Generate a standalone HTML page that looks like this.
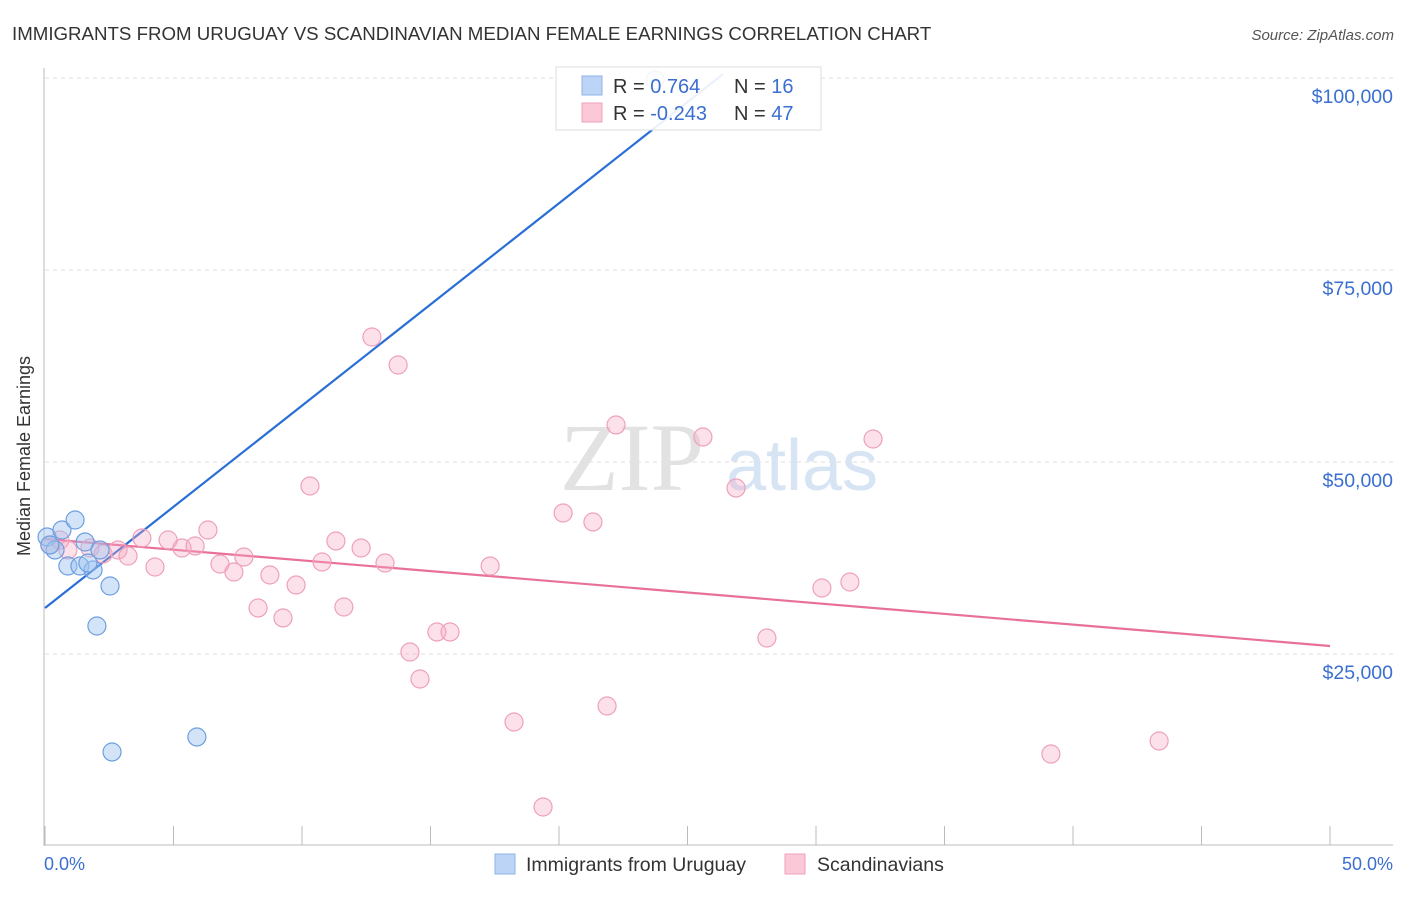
<!DOCTYPE html>
<html><head><meta charset="utf-8"><style>
body{margin:0;background:#fff;font-family:"Liberation Sans",sans-serif;}
</style></head><body>
<svg width="1406" height="892" xmlns="http://www.w3.org/2000/svg" font-family="Liberation Sans, sans-serif">
<text x="12" y="40" font-size="18.7" fill="#333">IMMIGRANTS FROM URUGUAY VS SCANDINAVIAN MEDIAN FEMALE EARNINGS CORRELATION CHART</text>
<text x="1394" y="40" font-size="15" fill="#555" font-style="italic" text-anchor="end">Source: ZipAtlas.com</text>
<g id="grid"></g>
<g>
<text x="632" y="490" font-size="96" fill="#e2e2e2" text-anchor="middle" font-family="Liberation Serif, serif">ZIP</text>
<text x="802" y="490" font-size="72" fill="#d6e4f4" text-anchor="middle">atlas</text>
</g>
<line x1="44" y1="68" x2="44" y2="846" stroke="#bbb"/>
<line x1="44" y1="845" x2="1393" y2="845" stroke="#bbb"/>
<text x="30" y="456" font-size="18" fill="#333" text-anchor="middle" transform="rotate(-90 30 456)">Median Female Earnings</text>
<text x="44" y="870" font-size="18" fill="#3a6fd0">0.0%</text>
<text x="1393" y="870" font-size="18" fill="#3a6fd0" text-anchor="end">50.0%</text>
<g id="ticks"></g>
<g id="lines"></g>
<g id="pts"></g>
<g>
<rect x="556" y="67" width="265" height="63" fill="#fff" fill-opacity="0.9" stroke="#ddd"/>
<rect x="582" y="76" width="20" height="19" fill="#bcd4f5" stroke="#8fb2e8"/>
<rect x="582" y="103" width="20" height="19" fill="#fac8d6" stroke="#f0a0b8"/>
<text x="613" y="93" font-size="20" fill="#333">R = <tspan fill="#3a6fd0"> 0.764</tspan></text>
<text x="734" y="93" font-size="20" fill="#333">N = <tspan fill="#3a6fd0"> 16</tspan></text>
<text x="613" y="120" font-size="20" fill="#333">R = <tspan fill="#3a6fd0">-0.243</tspan></text>
<text x="734" y="120" font-size="20" fill="#333">N = <tspan fill="#3a6fd0">47</tspan></text>
</g>
<g>
<rect x="495" y="854" width="20" height="20" fill="#bcd4f5" stroke="#8fb2e8"/>
<text x="526" y="871" font-size="19.5" fill="#333">Immigrants from Uruguay</text>
<rect x="785" y="854" width="20" height="20" fill="#fac8d6" stroke="#f0a0b8"/>
<text x="817" y="871" font-size="19.5" fill="#333">Scandinavians</text>
</g>
</svg>
<script>
const yTicks=[25000,50000,75000,100000];
const yTickLabels=["$25,000","$50,000","$75,000","$100,000"];
const xTicks=[0,5,10,15,20,25,30,35,40,45,50];
const blueX=[0.08,0.66,1.17,0.39,0.89,1.36,1.56,1.87,2.14,2.53,2.02,2.61,5.91,23.74,0.19,1.67];
const blueY=[40234,41146,42448,38542,36458,36458,39583,35938,38542,33854,28646,12240,14193,99740,39193,36849];
const pinkX=[0.19,0.58,0.89,1.75,2.26,2.84,3.23,3.77,4.28,4.79,5.33,5.84,6.34,6.81,7.35,7.74,8.29,8.75,9.26,9.77,10.31,10.78,11.32,11.63,12.30,12.72,13.23,13.74,14.20,14.59,15.25,15.76,17.32,18.25,19.38,20.16,21.32,21.87,22.22,25.60,26.89,28.09,30.23,31.32,32.22,39.14,43.35];
const pinkY=[39193,39844,38542,38802,38021,38542,37760,40104,36328,39844,38802,39063,41146,36719,35677,37630,30990,35286,29688,33984,46875,36979,39714,31120,38802,66276,36849,62630,25260,21745,27865,27865,36458,16146,5078,43359,42188,18229,54818,53255,46615,27083,33594,34375,52995,11979,13672];
const blueTrend=[30990,2635];
const pinkTrend=[39974,-278.6];
const X=v=>45+v/50*1285, Y=v=>846-v/25000*192;
const NS="http://www.w3.org/2000/svg";
function mk(t,a,p){const e=document.createElementNS(NS,t);for(const k in a)e.setAttribute(k,a[k]);p.appendChild(e);return e;}
const grid=document.getElementById('grid');
yTicks.forEach((v,i)=>{
 const l=mk('line',{x1:45,x2:1393,y1:Y(v),y2:Y(v),stroke:'#ddd','stroke-dasharray':'4,4'},grid);
 
 
 const t=mk('text',{x:1393,y:Y(v)+25,'font-size':19.5,fill:'#3a6fd0','text-anchor':'end'},grid);
 t.textContent=yTickLabels[i];
 
 
});
const ticks=document.getElementById('ticks');
xTicks.forEach(v=>{
 const l=mk('line',{x1:X(v),x2:X(v),y1:826,y2:845,stroke:'#bbb'},ticks);
 
 
});
const lines=document.getElementById('lines');
function trend(c,col,name,xmax){
 let x2=xmax; const yTop=100500;
 if(c[1]>0){const xt=(yTop-c[0])/c[1]; if(xt<x2)x2=xt;}
 const l=mk('line',{x1:X(0),y1:Y(c[0]),x2:X(x2),y2:Y(c[0]+c[1]*x2),stroke:col,'stroke-width':2.2},lines);
 
 
}
trend(blueTrend,'#2a6fd6','uruguay-trend-line',50);
trend(pinkTrend,'#e8709a','scandinavian-trend-line',50);
const pts=document.getElementById('pts');
pinkX.forEach((x,i)=>{
 const c=mk('circle',{cx:X(x),cy:Y(pinkY[i]),r:9,fill:'rgba(246,170,195,0.35)',stroke:'#eea0ba','stroke-width':1.2},pts);
 
 
});
blueX.forEach((x,i)=>{
 const c=mk('circle',{cx:X(x),cy:Y(blueY[i]),r:9,fill:'rgba(160,195,240,0.45)',stroke:'#6d9ee0','stroke-width':1.2},pts);
 
 
});
</script>
</body></html>
